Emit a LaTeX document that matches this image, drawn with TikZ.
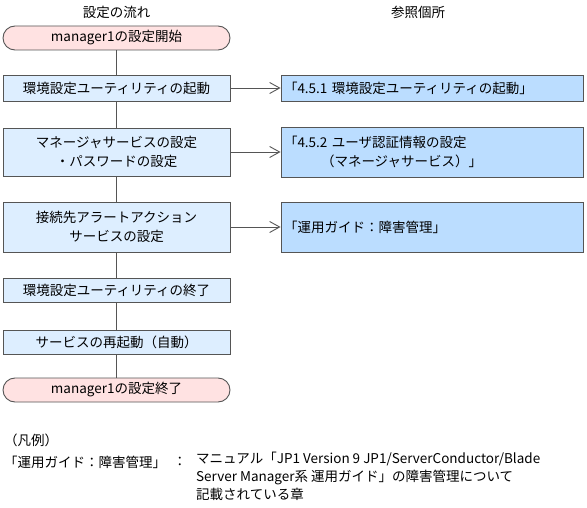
\documentclass[tikz,border=0pt]{standalone}
\usepackage{fontspec}
\setmainfont{Noto Sans CJK JP}
\usetikzlibrary{arrows.meta}
\definecolor{flowblue}{HTML}{DDEEFF}
\definecolor{refblue}{HTML}{BBDDFF}
\definecolor{termpink}{HTML}{FFE2E2}
\definecolor{edgegray}{HTML}{555555}
\begin{document}
\begin{tikzpicture}[x=1pt,y=-1pt,
  every node/.style={font=\fontsize{13.5}{19}\selectfont},
  flowbox/.style={draw=edgegray, line width=0.9pt, fill=flowblue, minimum width=227pt, inner sep=0pt, align=center},
  refbox/.style={draw=edgegray, line width=0.9pt, fill=refblue, minimum width=302pt, text width=296pt, inner xsep=3pt, inner ysep=0pt, align=left},
  term/.style={draw=edgegray, line width=0.9pt, fill=termpink, minimum width=227pt, minimum height=24pt, rounded corners=12pt, inner sep=0pt},
  link/.style={draw=edgegray, line width=0.9pt},
  reflink/.style={link, -{Straight Barb[length=10pt,width=11pt]}},
  plain/.style={inner sep=0pt}
]
\useasboundingbox (0,0) rectangle (587,508);
\node[plain] (t1) at (116.5,12) {設定の流れ};
\node[plain] (t2) at (418,12) {参照個所};
\node[term] (start) at (116.5,38) {manager1の設定開始};
\node[flowbox, minimum height=26pt] (b1) at (116.5,88) {環境設定ユーティリティの起動};
\node[flowbox, minimum height=48pt] (b2) at (116.5,152) {マネージャサービスの設定\\・パスワードの設定};
\node[flowbox, minimum height=50pt] (b3) at (116.5,227) {接続先アラートアクション\\サービスの設定};
\node[flowbox, minimum height=24pt] (b4) at (116.5,290) {環境設定ユーティリティの終了};
\node[flowbox, minimum height=24pt] (b5) at (116.5,342) {サービスの再起動（自動）};
\node[term] (end) at (116.5,390) {manager1の設定終了};
\node[refbox, minimum height=26pt] (r1) at (432,88) {「4.5.1 環境設定ユーティリティの起動」};
\node[refbox, minimum height=50pt] (r2) at (432,152) {「4.5.2 ユーザ認証情報の設定\\\hspace*{37pt}（マネージャサービス）」};
\node[refbox, minimum height=50pt] (r3) at (432,227) {「運用ガイド：障害管理」};
\draw[link] (start) -- (b1);
\draw[link] (b1) -- (b2);
\draw[link] (b2) -- (b3);
\draw[link] (b3) -- (b4);
\draw[link] (b4) -- (b5);
\draw[link] (b5) -- (end);
\draw[reflink] (b1) -- (r1);
\draw[reflink] (b2) -- (r2);
\draw[reflink] (b3) -- (r3);
\node[plain, anchor=west] (lg) at (4,440) {（凡例）};
\node[plain, anchor=west] (lk) at (4,462) {「運用ガイド：障害管理」};
\node[plain, anchor=west] (lc) at (173,462) {：};
\node[plain, anchor=north west, align=left, font={\fontsize{13.5}{18}\selectfont}] (ld) at (196,452) {マニュアル「JP1 Version 9 JP1/ServerConductor/Blade\\Server Manager系 運用ガイド」の障害管理について\\記載されている章};
\end{tikzpicture}
\end{document}
